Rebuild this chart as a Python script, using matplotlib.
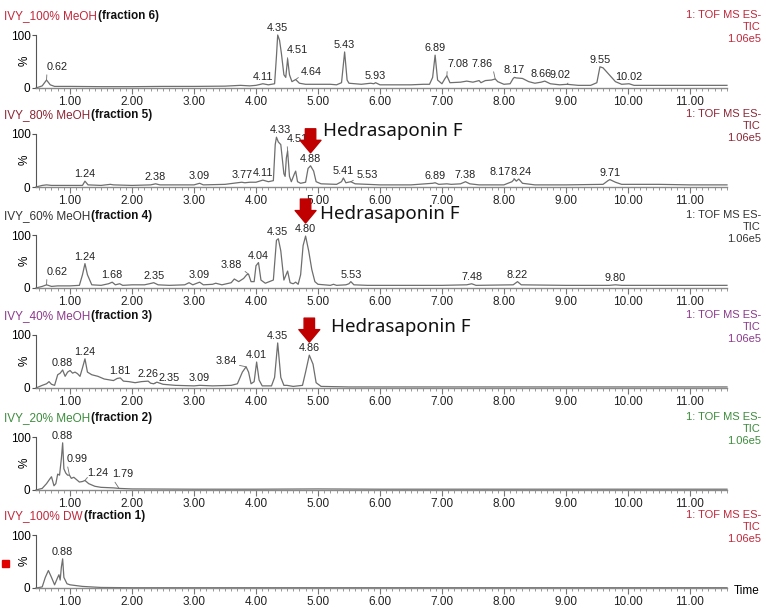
import numpy as np
import matplotlib
matplotlib.use('Agg')
import matplotlib.pyplot as plt
from matplotlib.ticker import MultipleLocator
from matplotlib.patches import Rectangle

plt.rcParams['font.family'] = ['Liberation Sans', 'DejaVu Sans']

# TIC traces: retention time (min) and relative intensity (%)
t6 = [0.45, 0.5, 0.55, 0.62, 0.68, 0.75, 1.0, 1.5, 2.0, 2.5, 3.0, 3.5, 3.75, 3.9, 4.0, 4.11, 4.2, 4.3,
      4.33, 4.35, 4.38, 4.41, 4.45, 4.48, 4.51, 4.54, 4.58, 4.64, 4.7, 4.8, 5.0, 5.2, 5.3, 5.38, 5.43,
      5.47, 5.5, 5.6, 5.7, 5.85, 5.9, 5.93, 6.0, 6.2, 6.5, 6.7, 6.8, 6.85, 6.89, 6.93, 7.0, 7.05, 7.08,
      7.13, 7.3, 7.4, 7.5, 7.6, 7.63, 7.7, 7.8, 7.86, 7.9, 8.0, 8.1, 8.15, 8.17, 8.2, 8.3, 8.4, 8.5, 8.6,
      8.66, 8.75, 8.9, 9.02, 9.2, 9.4, 9.5, 9.55, 9.6, 9.7, 9.8, 9.9, 10.02, 10.1, 10.5, 11.0, 11.6]
i6 = [0, 2, 4, 15, 6, 3, 3, 2.5, 2.5, 3, 3, 3.5, 5, 4, 5, 8, 6, 8,
      60, 100, 90, 65, 25, 20, 55, 25, 12, 16, 9, 7, 7, 7, 6, 10, 68,
      15, 9, 8, 7, 9, 8, 10, 6, 6, 6, 7, 7, 20, 62, 15, 8, 18, 23,
      10, 11, 13, 11, 14, 10, 14, 15, 17, 12, 7, 8, 18, 20, 19, 18, 12, 9, 11,
      13, 8, 6, 7, 5, 5, 10, 40, 38, 25, 12, 7, 8, 5, 5, 5, 5]
peaks6 = ['0.62', '4.11', '4.35', '4.51', '4.64', '5.43', '5.93', '6.89', '7.08', '7.86',
          '8.17', '8.66', '9.02', '9.55', '10.02']

t5 = [0.45, 0.55, 0.62, 0.7, 1.0, 1.2, 1.24, 1.29, 1.5, 1.65, 1.7, 2.0, 2.3, 2.38, 2.45, 3.0, 3.09,
      3.15, 3.5, 3.7, 3.77, 3.82, 3.9, 4.0, 4.11, 4.2, 4.28, 4.31, 4.33, 4.36, 4.4, 4.45, 4.47, 4.49,
      4.51, 4.54, 4.57, 4.62, 4.64, 4.67, 4.72, 4.8, 4.84, 4.88, 4.93, 4.97, 5.05, 5.3, 5.38, 5.41,
      5.45, 5.53, 5.6, 6.0, 6.5, 6.85, 6.89, 6.95, 7.08, 7.15, 7.3, 7.38, 7.45, 7.6, 8.0, 8.13, 8.17,
      8.2, 8.24, 8.3, 8.5, 9.0, 9.6, 9.68, 9.71, 9.8, 9.9, 10.5, 11.0, 11.6]
i5 = [0, 3, 4, 3, 3, 3, 11, 4, 3, 5, 4, 3, 4, 6, 4, 4, 7,
      4, 5, 8, 9, 8, 9, 9, 13, 10, 12, 80, 94, 85, 80, 25, 20, 55,
      68, 20, 10, 25, 30, 10, 7, 9, 35, 40, 30, 10, 6, 5, 10, 17,
      8, 10, 6, 4, 4, 7, 8, 5, 6, 5, 6, 10, 6, 4, 4, 10, 15,
      11, 15, 7, 4, 4, 5, 12, 14, 9, 5, 5, 4, 4]
peaks5 = ['1.24', '2.38', '3.09', '3.77', '4.11', '4.33', '4.51', '4.88', '5.41', '5.53',
          '6.89', '7.38', '8.17', '8.24', '9.71']

t4 = [0.45, 0.55, 0.62, 0.7, 0.8, 1.0, 1.15, 1.2, 1.24, 1.28, 1.35, 1.5, 1.62, 1.68, 1.73, 1.8, 1.85,
      2.0, 2.2, 2.28, 2.35, 2.42, 2.6, 2.85, 2.92, 2.98, 3.09, 3.15, 3.3, 3.35, 3.45, 3.6, 3.65, 3.72,
      3.8, 3.85, 3.88, 3.92, 3.97, 4.0, 4.04, 4.08, 4.15, 4.28, 4.33, 4.36, 4.4, 4.45, 4.51, 4.55,
      4.6, 4.64, 4.68, 4.72, 4.76, 4.8, 4.85, 4.9, 4.95, 5.0, 5.2, 5.25, 5.3, 5.45, 5.5, 5.53, 5.58,
      5.8, 6.0, 7.0, 7.4, 7.48, 7.55, 8.15, 8.22, 8.28, 9.0, 9.7, 9.8, 9.9, 10.4, 11.6]
i4 = [0, 3, 6, 3, 4, 4, 5, 25, 46, 25, 6, 5, 8, 11, 6, 8, 5,
      6, 6, 8, 10, 6, 5, 6, 10, 6, 11, 6, 7, 9, 6, 10, 17, 12,
      18, 25, 26, 12, 12, 42, 48, 15, 9, 15, 90, 93, 70, 15, 32, 10,
      8, 11, 7, 25, 80, 98, 70, 35, 12, 7, 5, 7, 5, 6, 8, 12, 6,
      5, 5, 5, 6, 8, 5, 6, 12, 6, 5, 5, 6, 5, 5, 5]
peaks4 = ['0.62', '1.24', '1.68', '2.35', '3.09', '3.88', '4.04', '4.35', '4.80', '5.53',
          '7.48', '8.22', '9.80']

t3 = [0.45, 0.55, 0.62, 0.66, 0.7, 0.75, 0.8, 0.84, 0.88, 0.92, 0.96, 1.0, 1.04, 1.08, 1.12, 1.16,
      1.2, 1.24, 1.28, 1.35, 1.45, 1.55, 1.65, 1.7, 1.76, 1.81, 1.86, 1.95, 2.05, 2.15, 2.26, 2.3,
      2.35, 2.4, 2.5, 2.7, 3.0, 3.09, 3.3, 3.6, 3.7, 3.78, 3.84, 3.88, 3.92, 3.97, 4.01, 4.05, 4.1,
      4.25, 4.3, 4.35, 4.4, 4.45, 4.5, 4.6, 4.75, 4.8, 4.86, 4.92, 4.97, 5.05, 5.5, 6.0, 11.6]
i3 = [0, 5, 8, 12, 7, 5, 25, 28, 34, 22, 30, 33, 28, 30, 27, 22,
      38, 55, 30, 25, 22, 17, 15, 14, 18, 19, 13, 12, 10, 12, 13, 9,
      8, 11, 7, 5, 4, 5, 4, 5, 8, 30, 40, 30, 8, 12, 49, 15, 4,
      4, 20, 85, 20, 5, 5, 3, 5, 30, 62, 45, 10, 3, 2, 2, 2]
peaks3 = ['0.88', '1.24', '1.81', '2.26', '2.35', '3.09', '3.84', '4.01', '4.35', '4.86']

t2 = [0.45, 0.55, 0.62, 0.68, 0.7, 0.74, 0.77, 0.8, 0.83, 0.86, 0.88, 0.9, 0.93, 0.96, 0.99, 1.02,
      1.06, 1.1, 1.15, 1.2, 1.24, 1.3, 1.4, 1.5, 1.7, 1.79, 2.0, 3.0, 4.0, 5.0, 6.0, 11.6]
i2 = [0, 3, 12, 22, 25, 8, 12, 30, 28, 60, 89, 40, 32, 28, 28, 22,
      24, 20, 15, 16, 18, 12, 7, 5, 4, 3, 2, 1.5, 1.5, 2, 1.5, 1.5]
peaks2 = ['0.88', '0.99', '1.24', '1.79']

t1 = [0.45, 0.55, 0.6, 0.65, 0.7, 0.75, 0.8, 0.82, 0.84, 0.86, 0.88, 0.9, 0.95, 1.0, 1.2, 1.5, 2.0, 11.6]
i1 = [0, 2, 20, 33, 20, 6, 20, 25, 15, 40, 55, 20, 8, 6, 3, 1, 0.5, 0.5]
peaks1 = ['0.88']

samples = ['IVY_100% MeOH', 'IVY_80% MeOH', 'IVY_60% MeOH', 'IVY_40% MeOH', 'IVY_20% MeOH', 'IVY_100% DW']
fractions = ['(fraction 6)', '(fraction 5)', '(fraction 4)', '(fraction 3)', '(fraction 2)', '(fraction 1)']
targets = ['', '4.88', '4.80', '4.86', '', '']
scale = '1.06e5'

times = [t6, t5, t4, t3, t2, t1]
values = [i6, i5, i4, i3, i2, i1]
peaks = [peaks6, peaks5, peaks4, peaks3, peaks2, peaks1]

# styling / layout (pixels)
colors = ['#c0283c', '#8b2635', '#333333', '#8b3a8b', '#3c8c3c', '#c0283c']
zero_px = [88, 187, 288, 388, 490, 588]
label_off = [
    {'0.62': (11, 8), '4.51': (10, 4), '4.64': (16, 3), '7.08': (11, 7), '7.86': (-13, 10),
     '8.66': (-4, 2), '9.02': (-7, 4)},
    {'4.33': (4, 2), '4.51': (10, 7), '5.53': (16, 2), '8.17': (-14, 2), '8.24': (2, 2)},
    {'0.62': (11, 8), '3.88': (-17, 4)},
    {'2.35': (15, 1), '3.84': (-20, 1)},
    {'0.99': (8, 11), '1.24': (13, 2), '1.79': (4, 9)},
    {},
]
leader = [['0.62', '4.51', '4.64', '7.08', '7.86', '9.02'], ['4.51', '5.53', '8.17'],
          ['0.62', '3.88'], ['2.35', '3.84'], ['0.99', '1.24', '1.79'], []]
hedra_off = [None, (12, 35), (14, 22), (22, 28), None, None]

W, H = 766, 610
fig = plt.figure(figsize=(W / 100, H / 100), dpi=100)
renderer = fig.canvas.get_renderer()
line_c = '#6e6e6e'

for k in range(6):
    y0 = zero_px[k]
    ax = fig.add_axes([36 / W, (H - y0) / H, 691 / W, 53 / H])
    ax.plot(times[k], values[k], color=line_c, lw=0.9, clip_on=False)
    ax.set_xlim(0.45, 11.6)
    ax.set_ylim(0, 100)
    ax.patch.set_visible(False)
    for s in ['top', 'right']:
        ax.spines[s].set_visible(False)
    ax.spines['left'].set_color('#555555')
    ax.spines['left'].set_linewidth(0.8)
    ax.spines['bottom'].set_color('#8a8a8a')
    ax.spines['bottom'].set_linewidth(1.0)
    ax.set_yticks([0, 100])
    ax.set_yticklabels(['0', '100'], fontsize=8.5)
    ax.tick_params(axis='y', length=3, pad=1, color='#555555')
    ax.set_xticks(range(1, 12))
    ax.set_xticklabels(['%.2f' % v for v in range(1, 12)], fontsize=8.5, color='#222222')
    ax.xaxis.set_minor_locator(MultipleLocator(0.1))
    ax.tick_params(axis='x', which='major', length=4, pad=2, color='#777777')
    ax.tick_params(axis='x', which='minor', length=2.5, color='#888888')

    fig.text(25 / W, 1 - (y0 - 27) / H, '%', rotation=90, fontsize=8.5, ha='center', va='center')

    # peak labels
    for lab in peaks[k]:
        rt = float(lab)
        top = np.interp(rt, times[k], values[k])
        dx, dy = label_off[k].get(lab, (0, 2))
        props = None
        if lab in leader[k]:
            props = dict(arrowstyle='-', color=line_c, lw=0.6, shrinkA=0, shrinkB=0,
                         relpos=(0 if dx > 0 else 1, 0.1))
        ax.annotate(lab, (rt, top), xytext=(dx, dy), textcoords='offset pixels',
                    ha='center', va='bottom', fontsize=7.8, color='#222222',
                    arrowprops=props, annotation_clip=False)

    # Hedrasaponin F marker
    if targets[k]:
        rt = float(targets[k])
        top = np.interp(rt, times[k], values[k])
        px = 53 / 100
        ax.annotate('', xy=(rt, top + 13 / px), xytext=(rt, top + 37 / px),
                    arrowprops=dict(arrowstyle='simple,head_width=1.5,head_length=0.9,tail_width=0.75',
                                    color='#c00000', shrinkA=0, shrinkB=0, mutation_scale=10),
                    annotation_clip=False)
        dx, dy = hedra_off[k]
        ax.annotate('Hedrasaponin F', (rt, top), xytext=(dx, dy), textcoords='offset pixels',
                    ha='left', va='center', fontsize=13.5, family=['Noto Sans', 'DejaVu Sans'],
                    color='#111111', annotation_clip=False)

    # title
    t = fig.text(4 / W, 1 - (y0 - 72) / H, samples[k], color=colors[k], fontsize=8.5, va='center')
    bb = t.get_window_extent(renderer)
    fig.text((bb.x1 + 1) / W, 1 - (y0 - 72) / H, fractions[k], fontsize=8.5, fontweight='bold',
             va='center', color='#111111')

    # right header
    for txt, off in zip(['1: TOF MS ES-', 'TIC', scale], [73, 61, 49]):
        fig.text(761 / W, 1 - (y0 - off) / H, txt, color=colors[k], fontsize=8, ha='right', va='center')

fig.add_artist(Rectangle((2 / W, 1 - 567 / H), 7 / W, 7 / H, transform=fig.transFigure,
                         color='#e00000'))
fig.text(734 / W, 1 - 591 / H, 'Time', fontsize=8.5, va='center')

fig.savefig('out.png', dpi=100)
